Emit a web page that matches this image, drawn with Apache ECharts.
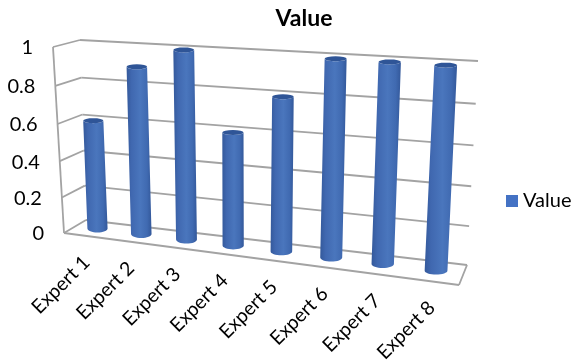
<!DOCTYPE html>
<html>
<head>
<meta charset="utf-8">
<style>html,body{margin:0;padding:0;background:#fff}#chart{width:577px;height:360px}</style>
<script src="https://cdn.jsdelivr.net/npm/echarts@6/dist/echarts.min.js"></script>
</head>
<body>
<div id="chart"></div>
<script>
// Chart content
const categories = ['Expert 1','Expert 2','Expert 3','Expert 4','Expert 5','Expert 6','Expert 7','Expert 8'];
const values = [0.6, 0.9, 1, 0.6, 0.8, 1, 1, 1];
const yTicks = [0, 0.2, 0.4, 0.6, 0.8, 1];
const yTickLabels = ['0', '0.2', '0.4', '0.6', '0.8', '1'];

// Pixel corners of the 3D plot box: Front/Back, Bottom/Top, Left/Right
const box = {
  FBL:[64,233], FTL:[53,47], BBL:[86,220], BTL:[80,40],
  FBR:[459,285], FTR:[470,74], BBR:[467,265], BTR:[478,61]
};
const FONT = 'Lato';
const TEXT = '#000';
const GRID = '#a3a3a3';
const lerp = (a,b,t) => [a[0]+(b[0]-a[0])*t, a[1]+(b[1]-a[1])*t];
// Perspective foreshortening along the category and value directions
const warp = (s,k) => s/(s+k*(1-s));

// Project plot-space (u across, d depth, h height; all 0..1) to the page
function project(u,d,h){
  const U = warp(u,1.14), H = warp(h,1.06);
  const frontB = lerp(box.FBL,box.FBR,U), frontT = lerp(box.FTL,box.FTR,U);
  const backB = lerp(box.BBL,box.BBR,U), backT = lerp(box.BTL,box.BTR,U);
  return lerp(lerp(frontB,backB,d), lerp(frontT,backT,d), H);
}
// Axis coordinates to normalised plot space
function toPlot(api,params,cat,val){
  const p = api.coord([cat,val]), r = params.coordSys;
  return [(p[0]-r.x)/r.width, (r.y+r.height-p[1])/r.height];
}
function line(a,b){
  return {type:'line',shape:{x1:a[0],y1:a[1],x2:b[0],y2:b[1]},style:{stroke:GRID,lineWidth:1.8}};
}
function renderGrid(params,api){
  const h = toPlot(api,params,0,api.value(1))[1];
  const kids = [line(project(0,0,h),project(0,1,h)), line(project(0,1,h),project(1,1,h))];
  if (h < 0.001) {
    kids.push(line(project(0,0,0),project(1,0,0)), line(project(1,0,0),project(1,1,0)), line(project(0,0,0),project(0,0,1)));
  }
  return {type:'group',children:kids};
}
function renderYLabel(params,api){
  const h = toPlot(api,params,0,api.value(1))[1];
  const p = project(0,0,h);
  return {type:'text',x:p[0]-20,y:p[1]+1,style:{text:yTickLabels[params.dataIndex],align:'right',verticalAlign:'middle',
    fontFamily:FONT,fontSize:20,fill:TEXT}};
}
function renderXLabel(params,api){
  const u = toPlot(api,params,api.value(0),0)[0];
  const p = project(u,0,0);
  return {type:'text',x:p[0]-25,y:p[1]+49,rotation:Math.PI/4,style:{text:categories[params.dataIndex],align:'center',verticalAlign:'middle',
    fontFamily:FONT,fontSize:19.5,fill:TEXT}};
}
// Cylinder side shading, slightly darker toward both edges
const sideFill = {type:'linear',x:0,y:0,x2:1,y2:0,colorStops:[
  {offset:0,color:'#34599b'},{offset:0.2,color:'#4068b0'},{offset:0.55,color:'#4a76bd'},{offset:0.82,color:'#406ab1'},{offset:1,color:'#33589a'}]};
function arc(c,rx,ry,from,to){
  const pts = [];
  for (let i=0;i<=16;i++){const a=from+(to-from)*i/16;pts.push([c[0]+rx*Math.cos(a),c[1]+ry*Math.sin(a)]);}
  return pts;
}
function renderBar(params,api){
  const pt = toPlot(api,params,api.value(0),api.value(1));
  const bottom = project(pt[0],0.55,0), top = project(pt[0],0.55,pt[1]);
  const rx = 10 + 1.5*warp(pt[0],1.14);
  const side = [[top[0]-rx,top[1]]].concat(arc(bottom,rx,4,Math.PI,0)).concat([[top[0]+rx,top[1]]]).concat(arc(top,rx,2.5,0,Math.PI));
  return {type:'group',children:[
    {type:'polygon',shape:{points:side},style:{fill:sideFill}},
    {type:'polygon',shape:{points:arc(top,rx,2.5,0,Math.PI*2)},style:{fill:'#2f5597'}}
  ]};
}

const chart = echarts.init(document.getElementById('chart'),null,{renderer:'canvas'});
const tickRows = yTicks.map(t => [0,t]);
chart.setOption({
  backgroundColor:'#fff',
  animation:false,
  title:{text:'Value',left:299,top:2,textAlign:'center',textStyle:{fontFamily:FONT,fontSize:23,fontWeight:'bold',color:TEXT}},
  legend:{left:501,top:186,itemWidth:12,itemHeight:12,itemGap:5,icon:'rect',selectedMode:false,
    data:[{name:'Value'}],textStyle:{fontFamily:FONT,fontSize:20,color:TEXT,padding:[0,0,0,0]}},
  grid:{left:60,right:100,top:40,bottom:70},
  xAxis:{type:'category',data:categories,show:false},
  yAxis:{type:'value',min:0,max:1,interval:0.2,show:false},
  series:[
    {id:'walls',type:'custom',renderItem:renderGrid,data:tickRows,silent:true,clip:false,z:1},
    {name:'Value',type:'custom',renderItem:renderBar,data:categories.map((c,i)=>[i,values[i]]),itemStyle:{color:'#4472c4'},clip:false,z:2},
    {id:'valueLabels',type:'custom',renderItem:renderYLabel,data:tickRows,silent:true,clip:false,z:3},
    {id:'categoryLabels',type:'custom',renderItem:renderXLabel,data:categories.map((c,i)=>[i,0]),silent:true,clip:false,z:3}
  ]
});
</script>
</body>
</html>
